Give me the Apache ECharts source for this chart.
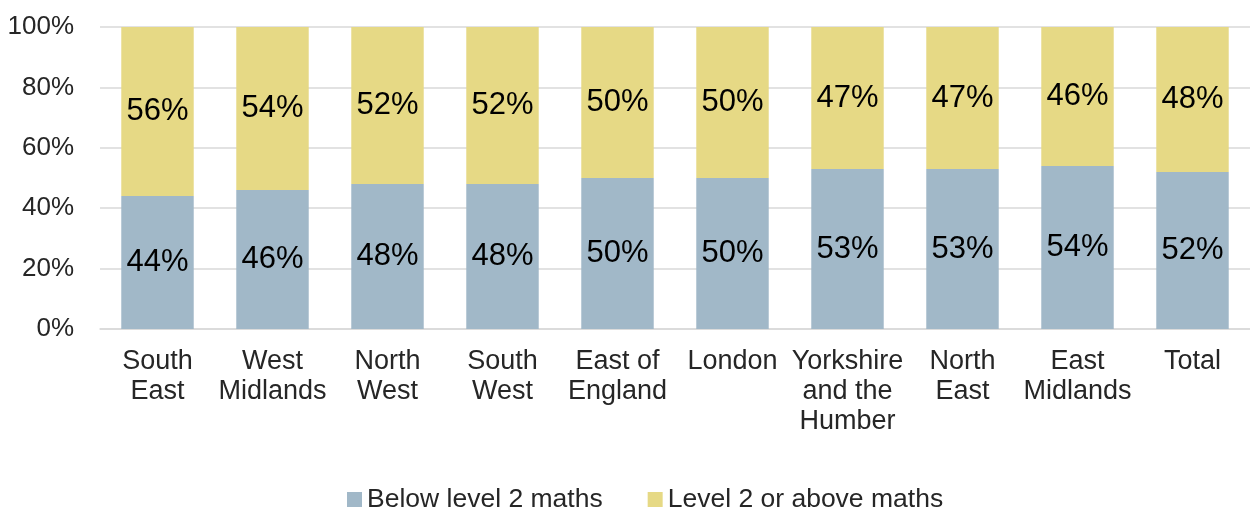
<!DOCTYPE html>
<html>
<head>
<meta charset="utf-8">
<script src="https://cdn.jsdelivr.net/npm/echarts@6/dist/echarts.min.js"></script>
<style>
  html, body { margin: 0; padding: 0; background: #fff; }
  #chart { width: 1250px; height: 508px; }
</style>
</head>
<body>
<div id="chart"></div>
<script>
  // regions, as labelled on the x axis
  const categories = ['South\nEast', 'West\nMidlands', 'North\nWest', 'South\nWest', 'East of\nEngland',
    'London', 'Yorkshire\nand the\nHumber', 'North\nEast', 'East\nMidlands', 'Total'];
  const belowLevel2 = [44, 46, 48, 48, 50, 50, 53, 53, 54, 52];
  const level2OrAbove = [56, 54, 52, 52, 50, 50, 47, 47, 46, 48];
  const yTicks = [0, 20, 40, 60, 80, 100];

  const chart = echarts.init(document.getElementById('chart'));

  const labelStyle = {
    show: true,
    position: 'inside',
    color: '#000',
    fontSize: 31,
    fontFamily: 'Liberation Sans, Arial, sans-serif',
    formatter(p) { return p.value + '%'; }
  };

  chart.setOption({
    backgroundColor: '#fff',
    textStyle: { fontFamily: 'Liberation Sans, Arial, sans-serif' },
    grid: { left: 100, right: 0, top: 27, bottom: 179 },
    legend: {
      top: 481,
      left: 342,
      itemWidth: 15,
      itemHeight: 15,
      itemGap: 45,
      icon: 'rect',
      textStyle: { fontSize: 26.5, color: '#262626' },
      data: ['Below level 2 maths', 'Level 2 or above maths']
    },
    xAxis: {
      type: 'category',
      data: categories,
      axisLine: { lineStyle: { color: '#d9d9d9', width: 1.5 } },
      axisTick: { show: false },
      axisLabel: { fontSize: 27, color: '#262626', lineHeight: 30, margin: 18, interval: 0 }
    },
    yAxis: {
      type: 'value',
      min: yTicks[0],
      max: yTicks[yTicks.length - 1],
      interval: 20,
      axisLine: { show: false },
      axisTick: { show: false },
      splitLine: { lineStyle: { color: '#d9d9d9', width: 1.5 } },
      axisLabel: { fontSize: 26, color: '#262626', margin: 26, formatter: '{value}%' }
    },
    series: [{
      name: 'Below level 2 maths',
      type: 'bar',
      stack: 'total',
      barWidth: '63%',
      itemStyle: { color: '#a1b8c8' },
      label: labelStyle,
      data: belowLevel2
    }, {
      name: 'Level 2 or above maths',
      type: 'bar',
      stack: 'total',
      barWidth: '63%',
      itemStyle: { color: '#e6d985' },
      label: labelStyle,
      data: level2OrAbove
    }]
  });
</script>
</body>
</html>
